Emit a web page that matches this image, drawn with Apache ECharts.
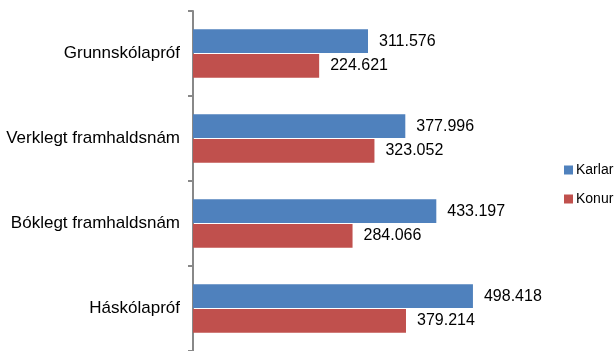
<!DOCTYPE html>
<html><head><meta charset="utf-8">
<script src="https://cdn.jsdelivr.net/npm/echarts@6/dist/echarts.min.js"></script>
<style>html,body{margin:0;padding:0;background:#fff}#c{width:615px;height:351px}</style>
</head><body><div id="c"></div>
<script>
var categories = ['Grunnskólapróf', 'Verklegt framhaldsnám', 'Bóklegt framhaldsnám', 'Háskólapróf'];
var karlar = [311.576, 377.996, 433.197, 498.418];
var konur = [224.621, 323.052, 284.066, 379.214];
var seriesNames = ['Karlar', 'Konur'];

var chart = echarts.init(document.getElementById('c'));
var labelCfg = {
  show: true, position: 'right', distance: 11,
  color: '#000', fontFamily: 'Liberation Sans, Arial, sans-serif', fontSize: 16,
  formatter: function (p) { return p.value.toFixed(3); }
};
chart.setOption({
  animation: false,
  textStyle: { fontFamily: 'Liberation Sans, Arial, sans-serif' },
  grid: { left: 193, top: 11, width: 337, height: 344, containLabel: false },
  legend: {
    orient: 'vertical', left: 559, top: 158, itemGap: 15,
    itemWidth: 9, itemHeight: 9, icon: 'rect',
    textStyle: { fontSize: 14, color: '#000', padding: [0, 0, 0, -2] },
    data: seriesNames
  },
  xAxis: { type: 'value', min: 0, max: 600, show: false },
  yAxis: {
    type: 'category', inverse: true, data: categories,
    axisLine: { show: true, lineStyle: { color: '#888', width: 2 } },
    axisTick: { show: true, length: 5, lineStyle: { color: '#888', width: 2 } },
    axisLabel: { color: '#000', fontSize: 17, margin: 13 },
    splitLine: { show: false }
  },
  series: [
    { name: seriesNames[0], type: 'bar', data: karlar, barGap: '4%', barCategoryGap: '43%',
      itemStyle: { color: '#4F81BD' }, label: labelCfg },
    { name: seriesNames[1], type: 'bar', data: konur,
      itemStyle: { color: '#C0504D' }, label: labelCfg }
  ]
});
</script></body></html>
